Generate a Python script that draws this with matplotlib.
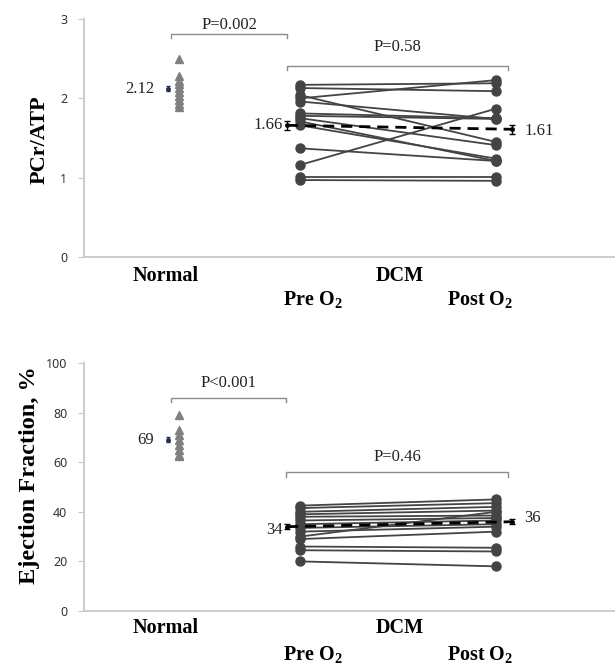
""" BIBLIOTHEQUES """
import numpy as np
import matplotlib
matplotlib.use('Agg')
import matplotlib.pyplot as plt

plt.rcParams['mathtext.fontset'] = 'custom'
plt.rcParams['mathtext.rm'] = 'Liberation Serif'
plt.rcParams['mathtext.bf'] = 'Liberation Serif:bold'

""" DONNEES """
# PCr/ATP
pcr_normal = [2.50, 2.28, 2.22, 2.18, 2.13, 2.08, 2.03, 1.98, 1.93, 1.89]
pcr_pre    = [2.17, 2.13, 2.04, 2.00, 1.96, 1.81, 1.78, 1.75, 1.71, 1.66, 1.37, 1.16, 1.01, 0.97]
pcr_post   = [2.19, 2.09, 1.45, 2.23, 1.74, 1.75, 1.74, 1.41, 1.21, 1.24, 1.21, 1.87, 1.01, 0.96]
pcr_mean   = [2.12, 1.66, 1.61]
pcr_err    = [0.03, 0.06, 0.06]
pcr_pval   = ['P=0.002', 'P=0.58']

# Ejection fraction
ef_normal = [79, 73, 71, 69, 67, 65, 63, 62.5]
ef_pre    = [42.5, 41.5, 40.0, 39.0, 38.0, 36.5, 35.0, 33.5, 32.0, 30.0, 29.0, 26.0, 24.5, 20.0]
ef_post   = [45.0, 43.5, 42.0, 40.5, 38.5, 37.5, 36.5, 35.0, 34.0, 40.0, 32.0, 25.5, 24.0, 18.0]
ef_mean   = [69, 34, 36]
ef_err    = [1.0, 1.0, 1.0]
ef_pval   = ['P<0.001', 'P=0.46']

""" MISE EN PAGE (en pixels) """
W, H = 615, 666
x_norm, x_pre, x_post = 179, 300, 496      # positions des groupes
x_mnorm, x_mpre, x_mpost = 168, 287, 512   # positions des moyennes

grey_tri = '#808080'
grey_dcm = '#444444'
axis_col = '#c8c8c8'
serif = 'Liberation Serif'

fig = plt.figure(figsize=(W/100, H/100), dpi=100)


def panel(bottom_px, top_px, ymax, yticks, normal, pre, post, mean, err, pval,
          brk1, brk2, ylabel, ylab_x, ylab_y, ylab_size, labels_txt, lab_pos):
    ax = fig.add_axes([84/W, 1-bottom_px/H, 1-84/W, (bottom_px-top_px)/H])
    ax.set_xlim(84, 615)
    ax.set_ylim(0, ymax)
    ax.set_yticks(yticks)
    ax.set_xticks([])
    for s in ['top', 'right']:
        ax.spines[s].set_visible(False)
    for s in ['left', 'bottom']:
        ax.spines[s].set_color(axis_col)
        ax.spines[s].set_linewidth(1.3)
    ax.tick_params(axis='y', length=4, color=axis_col, labelsize=9,
                   labelcolor='#333333', pad=8)
    for t in ax.get_yticklabels():
        t.set_family('Noto Sans')
        t.set_fontweight('medium')

    # lignes individuelles DCM
    for a, b in zip(pre, post):
        ax.plot([x_pre, x_post], [a, b], '-', color=grey_dcm, lw=1.3,
                marker='o', ms=6.5, mfc=grey_dcm, mec=grey_dcm, zorder=3)
    # sujets normaux
    ax.plot([x_norm]*len(normal), normal, '^', color=grey_tri, ms=6, zorder=3)

    # moyennes +- erreur
    ax.errorbar([x_mnorm], [mean[0]], yerr=[err[0]], fmt='o', ms=2.5,
                color='#1f2f50', capsize=1.5, lw=1, zorder=4)
    ax.errorbar([x_mpre, x_mpost], mean[1:], yerr=err[1:], fmt='o', ms=2.5,
                color='black', capsize=2, lw=1, zorder=5)
    ax.plot([x_mpre, x_mpost], mean[1:], '--', color='black', lw=2,
            dashes=(4, 2.5), zorder=5)

    # valeurs des moyennes
    ax.text(x_mnorm-14, mean[0], labels_txt[0], ha='right', va='center',
            family=serif, fontsize=12, color='#222222')
    ax.text(x_mpre-4, mean[1]+lab_pos[0], labels_txt[1], ha='right', va='center',
            family=serif, fontsize=12, color='#222222')
    ax.text(x_mpost+12, mean[2]+lab_pos[1], labels_txt[2], ha='left', va='center',
            family=serif, fontsize=12, color='#222222')

    # crochets de significativite
    d = ymax*0.018
    for (x0, x1, yb, yt), txt in zip([brk1, brk2], pval):
        ax.plot([x0, x0, x1, x1], [yb-d, yb, yb, yb-d], color='#8c8c8c', lw=1)
        ax.text((x0+x1)/2, yt, txt, ha='center', va='center', family=serif,
                fontsize=12, color='#222222')

    fig.text(ylab_x/W, 1-ylab_y/H, ylabel, rotation=90,
             ha='center', va='center', family=serif, fontweight='bold',
             fontsize=ylab_size)
    return ax


ax1 = panel(257, 19, 3, [0, 1, 2, 3], pcr_normal, pcr_pre, pcr_post,
            pcr_mean, pcr_err, pcr_pval,
            (171, 287, 2.81, 2.93), (287, 508, 2.41, 2.65),
            'PCr/ATP', 40, 140, 16, ['%.2f' % v for v in pcr_mean], (0.0, -0.02))

ax2 = panel(611, 363, 100, [0, 20, 40, 60, 80, 100], ef_normal, ef_pre, ef_post,
            ef_mean, ef_err, ef_pval,
            (171, 286, 85.9, 92), (286, 508, 56, 62),
            'Ejection Fraction, %', 30, 475, 17.5, ['%d' % v for v in ef_mean], (-1.5, 1.5))

# etiquettes des groupes
for yg, ys in [(276, 300), (628, 655)]:
    fig.text(166/W, 1-yg/H, 'Normal', ha='center', va='center', family=serif,
             fontweight='bold', fontsize=14.5)
    fig.text(400/W, 1-yg/H, 'DCM', ha='center', va='center', family=serif,
             fontweight='bold', fontsize=14.5)
    fig.text(313/W, 1-ys/H, r'Pre O$_\mathbf{2}$', ha='center', va='center',
             family=serif, fontweight='bold', fontsize=14.5)
    fig.text(480/W, 1-ys/H, r'Post O$_\mathbf{2}$', ha='center', va='center',
             family=serif, fontweight='bold', fontsize=14.5)

fig.savefig('out.png', dpi=100)
